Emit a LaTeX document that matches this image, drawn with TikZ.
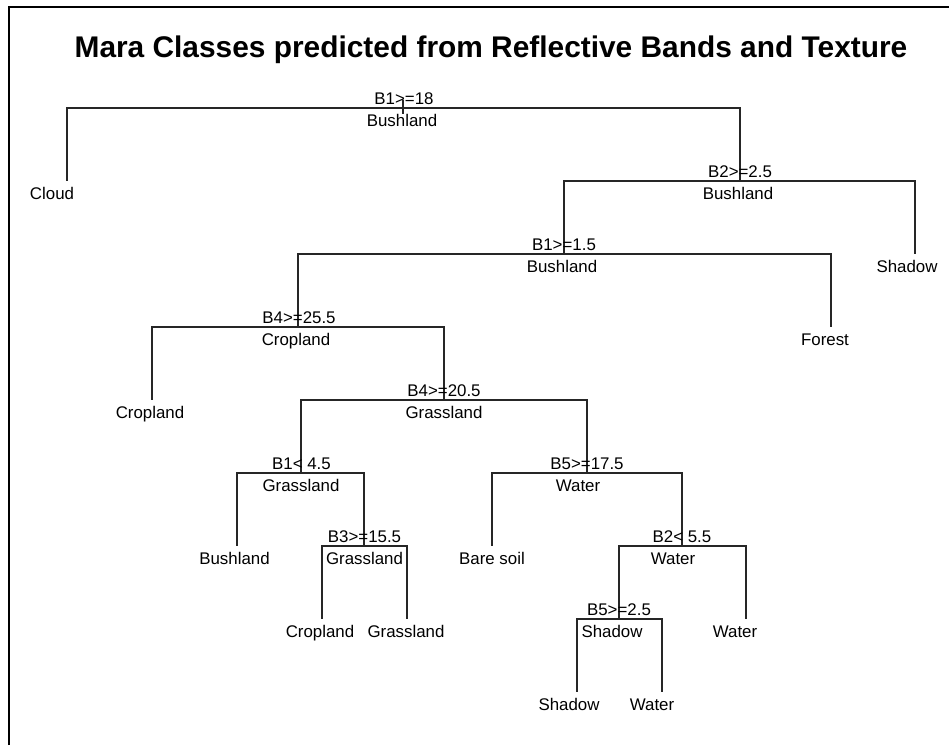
\documentclass[tikz,border=0pt]{standalone}
\usepackage{fontspec}
\setmainfont{Liberation Sans}
\usepackage{tikz}
\usetikzlibrary{positioning}

\tikzset{
  branch/.style={draw=black!85, line width=0.9pt},
  splitlab/.style={anchor=base, inner sep=0pt, font=\fontsize{9.6}{11}\selectfont},
  classlab/.style={splitlab},
  leaflab/.style={splitlab}
}

\begin{document}
\begin{tikzpicture}[x=0.02cm, y=-0.02cm]
  \useasboundingbox (0,0) rectangle (949,745);
  % frame
  \draw[line width=1.4pt] (9,745) -- (9,7) -- (949,7);
  \node[anchor=base, font=\fontsize{17}{20}\selectfont\bfseries] (title) at (491,57.5) {Mara Classes predicted from Reflective Bands and Texture};
  % split points
  \foreach \n/\x/\y in {root/403/108, s2/740/181, s3/564/254, s4/298/327, s5/444/400, s6/301/473, s7/364/546, s8/587/473, s9/682/546, s10/619/619}
    \coordinate (\n) at (\x,\y);
  % leaf ends
  \foreach \n/\x/\y in {cloud/67/181, shadowA/915/254, forest/831/327, cropA/152/400, bushA/237/546, cropB/322/619, grassA/407/619, bare/492/546, waterA/746/619, shadowB/577/692, waterB/662/692}
    \coordinate (\n) at (\x,\y);
  % branches
  \coordinate (stem) at (403,100);
  \draw[branch] (stem) -- ++(0,14);
  \foreach \a/\b in {root/cloud, root/s2, s2/s3, s2/shadowA, s3/s4, s3/forest, s4/cropA, s4/s5, s5/s6, s5/s8, s6/bushA, s6/s7, s7/cropB, s7/grassA, s8/bare, s8/s9, s9/s10, s9/waterA, s10/shadowB, s10/waterB}
    \draw[branch] (\a) -| (\b);
  % split rules and fitted classes
  \foreach \n/\dx/\t/\c/\dc in {root/1/B1>=18/Bushland/-1, s2/0/B2>=2.5/Bushland/-2, s3/0/B1>=1.5/Bushland/-2, s4/1/B4>=25.5/Cropland/-2, s5/0/B4>=20.5/Grassland/0, s6/0.5/B1< 4.5/Grassland/0, s7/0.5/B3>=15.5/Grassland/0.5, s8/0/B5>=17.5/Water/-9, s9/0/B2< 5.5/Water/-9, s10/0/B5>=2.5/Shadow/-7}
  {
    \node[splitlab] (\n-rule) at ([shift={(\dx,-4)}]\n) {\t};
    \node[classlab] (\n-class) at ([shift={(\dc,18.5)}]\n) {\c};
  }
  % leaves
  \foreach \n/\dx/\t in {cloud/-15/Cloud, shadowA/-8/Shadow, forest/-6/Forest, cropA/-2/Cropland, bushA/-2.5/Bushland, cropB/-2/Cropland, grassA/-1/Grassland, bare/0/Bare soil, waterA/-11/Water, shadowB/-8/Shadow, waterB/-10/Water}
    \node[leaflab] (\n-lab) at ([shift={(\dx,18)}]\n) {\t};
\end{tikzpicture}
\end{document}
